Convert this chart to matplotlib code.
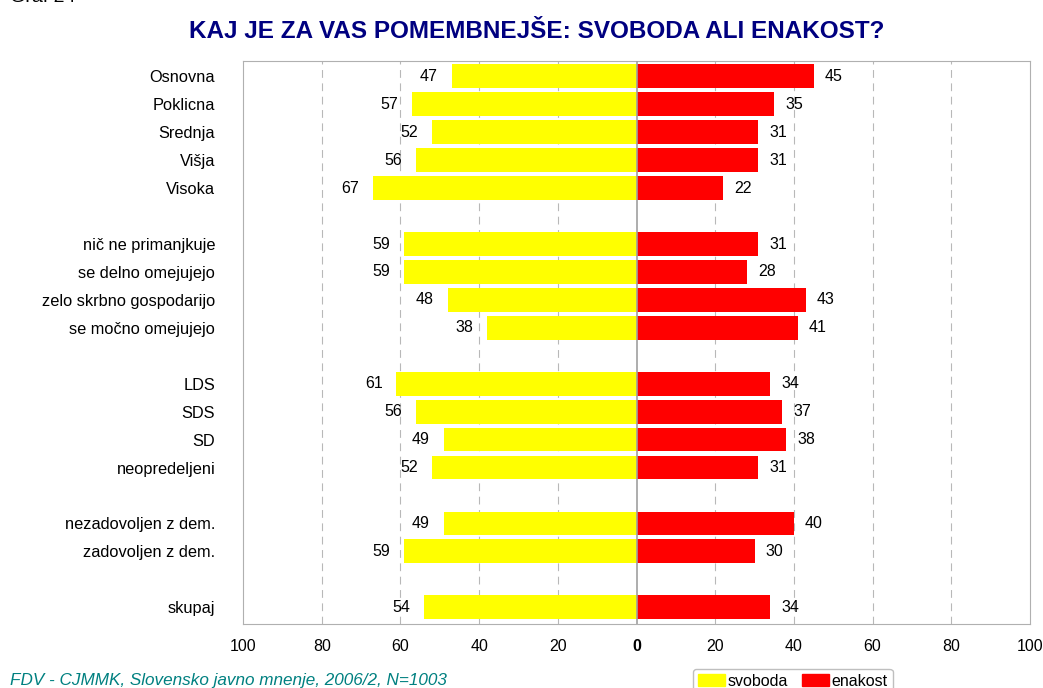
import matplotlib.pyplot as plt
from matplotlib.patches import Patch

# podatki
kategorije = ["Osnovna", "Poklicna", "Srednja", "Višja", "Visoka", "",
              "nič ne primanjkuje", "se delno omejujejo", "zelo skrbno gospodarijo", "se močno omejujejo", "",
              "LDS", "SDS", "SD", "neopredeljeni", "",
              "nezadovoljen z dem.", "zadovoljen z dem.", "",
              "skupaj"]
svoboda = [47, 57, 52, 56, 67, None, 59, 59, 48, 38, None, 61, 56, 49, 52, None, 49, 59, None, 54]
enakost = [45, 35, 31, 31, 22, None, 31, 28, 43, 41, None, 34, 37, 38, 31, None, 40, 30, None, 34]
x_ticks = [-100, -80, -60, -40, -20, 0, 20, 40, 60, 80, 100]
x_labels = ["100", "80", "60", "40", "20", "0", "20", "40", "60", "80", "100"]

plt.rcParams['font.family'] = ['Liberation Sans', 'DejaVu Sans']

fig = plt.figure(figsize=(10.43, 6.88), dpi=100)
ax = fig.add_axes([243 / 1043, 1 - 624 / 688, (1030 - 243) / 1043, (624 - 61) / 688])

for i, (s, e) in enumerate(zip(svoboda, enakost)):
    if s is None:
        continue
    ax.barh(i, -s, height=0.85, color="#FFFF00", zorder=3)
    ax.barh(i, e, height=0.85, color="#FF0000", zorder=3)
    ax.annotate(str(s), (-s, i), xytext=(-10, 0), textcoords="offset points",
                ha="right", va="center", fontsize=11.5)
    ax.annotate(str(e), (e, i), xytext=(8, 0), textcoords="offset points",
                ha="left", va="center", fontsize=11.5)

ax.set_xlim(-100, 100)
ax.set_ylim(19.6, -0.55)
ax.set_yticks(range(len(kategorije)))
ax.set_yticklabels(kategorije, fontsize=11.8)
ax.set_xticks(x_ticks)
ax.set_xticklabels(x_labels, fontsize=11.5)
ax.get_xticklabels()[5].set_fontweight("bold")
ax.tick_params(axis="both", length=0)
ax.tick_params(axis="y", pad=20)
ax.tick_params(axis="x", pad=11)

for v in [-80, -60, -40, -20, 20, 40, 60, 80]:
    ax.axvline(v, color="#b8b8b8", lw=0.8, linestyle=(0, (7, 5)), zorder=1)
ax.axvline(0, color="#a0a0a0", lw=1.2, zorder=4)
for sp in ax.spines.values():
    sp.set_color("#b0b0b0")

fig.text(537 / 1043, 1 - 32 / 688, "KAJ JE ZA VAS POMEMBNEJŠE: SVOBODA ALI ENAKOST?",
         ha="center", va="center", fontsize=17.5, fontweight="bold", color="#000080")
fig.text(10 / 1043, 1 + 3 / 688, "Graf 24", ha="left", va="center", fontsize=14)
fig.text(10 / 1043, 1 - 681 / 688, "FDV - CJMMK, Slovensko javno mnenje, 2006/2, N=1003",
         ha="left", va="center", fontsize=12.3, style="italic", color="#008080")

handles = [Patch(color="#FFFF00", label="svoboda"), Patch(color="#FF0000", label="enakost")]
fig.legend(handles=handles, loc="upper left", bbox_to_anchor=(693 / 1043, 1 - 669 / 688),
           ncol=2, fontsize=11.5, frameon=True, fancybox=True, edgecolor="#b0b0b0",
           handlelength=1.7, handleheight=0.8, handletextpad=0.15, columnspacing=0.9,
           borderpad=0.3, borderaxespad=0)

fig.savefig("out.png", dpi=100)
